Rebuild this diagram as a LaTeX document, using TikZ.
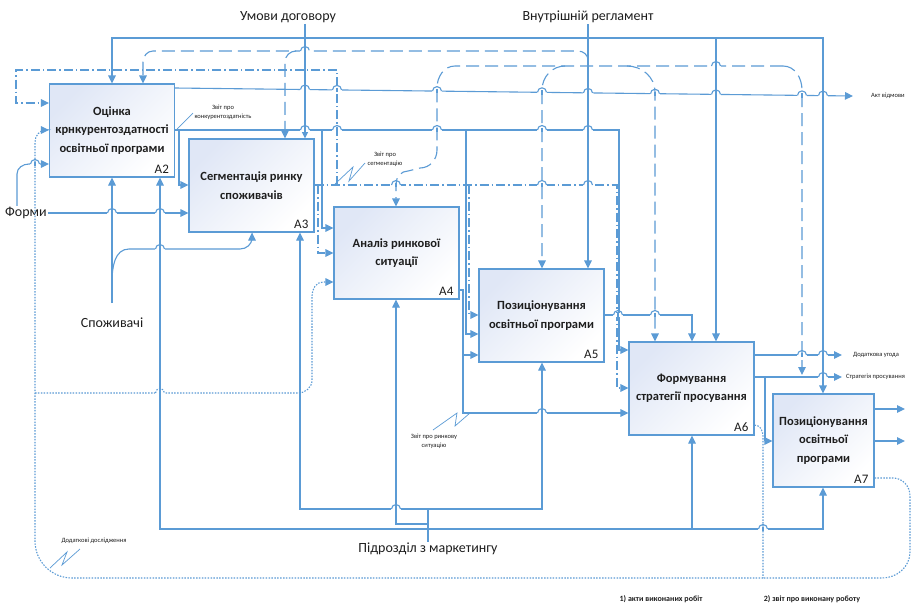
\documentclass[tikz,border=0pt]{standalone}
\usepackage{fontspec}
\setmainfont{Carlito}
\usetikzlibrary{arrows.meta}
\definecolor{lc}{RGB}{91,155,213}
\definecolor{boxtop}{RGB}{224,231,246}
\definecolor{txt}{RGB}{30,30,30}
\newcommand\hopx[3][]{%
  \fill[white] (#2-5.2,#3-1.6) rectangle (#2+5.2,#3+1.6);
  \draw[ln] (#2,#3-2.2) -- (#2,#3+2.2);
  \draw[ln,#1] (#2-4.5,#3) arc[start angle=180,end angle=360,radius=4.5];}
\begin{document}
\begin{tikzpicture}[x=1pt,y=-1pt,
  ln/.style={draw=lc,line width=1.1pt},
  arr/.style={ln,-{Triangle[length=8pt,width=7.5pt]}},
  dsh/.style={dash pattern=on 13pt off 6pt},
  ddot/.style={dash pattern=on 9pt off 3pt on 1.5pt off 3pt},
  dott/.style={line width=1.1pt,dash pattern=on 1.5pt off 1.4pt},
  zig/.style={draw=lc,line width=0.7pt},
  box/.style={draw=lc,line width=1.1pt,top color=boxtop,bottom color=white,shading angle=45,inner sep=0pt,align=center,font=\bfseries\fontsize{12.5}{18.5}\selectfont,text=txt},
  tag/.style={anchor=base east,font=\fontsize{13}{13}\selectfont,text=txt,inner sep=0pt},
  big/.style={font=\fontsize{14}{16}\selectfont,text=txt,inner sep=1pt},
  small/.style={font=\fontsize{6.5}{9}\selectfont,text=txt,align=center,inner sep=0pt},
  foot/.style={font=\bfseries\fontsize{8}{10}\selectfont,text=txt,inner sep=0pt}
]
\useasboundingbox[fill=white] (0,0) rectangle (911,606);

% boxes
\node[box,minimum width=125pt,minimum height=93pt] (A2) at (112,130.5) {Оцінка\\крнкурентоздатності\\освітньої програми};
\node[box,minimum width=125pt,minimum height=93pt] (A3) at (251.5,185.5) {Сегментація ринку\\споживачів};
\node[box,minimum width=125pt,minimum height=92pt] (A4) at (396.5,253) {Аналіз ринкової\\ситуації};
\node[box,minimum width=125pt,minimum height=93pt] (A5) at (541.5,315.5) {Позиціонування\\освітньої програми};
\node[box,minimum width=125pt,minimum height=93pt] (A6) at (691.5,388.5) {Формування\\стратегії просування};
\node[box,minimum width=101pt,minimum height=93pt] (A7) at (823.5,440.5) {Позиціонування\\освітньої\\програми};
\node[tag] (A2l) at ([xshift=-6pt,yshift=4pt]A2.south east) {A2};
\node[tag] (A3l) at ([xshift=-6pt,yshift=4pt]A3.south east) {A3};
\node[tag] (A4l) at ([xshift=-6pt,yshift=4pt]A4.south east) {A4};
\node[tag] (A5l) at ([xshift=-6pt,yshift=4pt]A5.south east) {A5};
\node[tag] (A6l) at ([xshift=-6pt,yshift=4pt]A6.south east) {A6};
\node[tag] (A7l) at ([xshift=-6pt,yshift=4pt]A7.south east) {A7};

% labels
\node[big] (umovy) at (288,17) {Умови договору};
\node[big] (regl) at (588,17) {Внутрішній регламент};
\node[big,anchor=west] (forms) at (4,213) {Форми};
\node[big] (cons) at (112,323) {Споживачі};
\node[big] (mech) at (428,549) {Підрозділ з маркетингу};
\node[small,anchor=west] (akt) at (871,96) {Акт відмови};
\node[small,anchor=west] (dod) at (853,355) {Додаткова угода};
\node[small,anchor=west] (strat) at (846,377) {Стратегія просування};
\node[small] (zk) at (223,112) {Звіт про\\конкурентоздатність};
\node[small] (zs) at (385,159) {Звіт про\\сегментацію};
\node[small] (zr) at (434,441) {Звіт про ринкову\\ситуацію};
\node[small] (dd) at (94,541) {Додаткові дослідження};
\node[foot] (f1) at (661,599) {1) акти виконаних робіт};
\node[foot] (f2) at (812,599) {2) звіт про виконану роботу};

\coordinate (ctop) at (112,303);

% controls (top)
\draw[arr] (umovy.south -| 305,0) -- (A3.north -| 305,0);
\draw[arr] (regl.south -| 588,0) -- (A5.north -| 588,0);
\draw[arr] (305,38) -| (A2.north -| 112,0);
\draw[arr] (305,38) -| (A7.north -| 823,0);
\draw[arr] (716,38) -- (A6.north -| 716,0);

% dashed controls
\draw[arr,dsh] (588,60) to[out=90,in=0] (578,51) -- (153,51) to[out=180,in=90] (143,62) -- (A2.north -| 143,0);
\draw[arr,dsh] (296,51) to[out=180,in=90] (285,62) -- (A3.north -| 285,0);
\draw[arr,dsh] (783,66) -- (455,66) to[out=180,in=90] (437,88) -- (437,150) to[out=-90,in=0] (420,168) -- (408,171) to[out=180,in=90] (396,184) -- (A4.north -| 396,0);
\draw[arr,dsh] (783,66) to[out=0,in=90] (802,90) -- (802,375);
\draw[arr,dsh] (565,66) to[out=180,in=90] (542,90) -- (A5.north -| 542,0);
\draw[arr,dsh] (627,66) to[out=0,in=90] (655,92) -- (A6.north -| 655,0);

% dash-dot feedback from A3
\draw[arr,ddot] (337,185) -- (337,70) -- (16,70) -- (16,103) -- (A2.west |- 0,103);
\draw[arr,ddot] (A3.east |- 0,185) -- (617,185) -- (617,388) -- (A6.west |- 0,388);
\draw[arr,ddot] (318,185) -- (318,253) -- (A4.west |- 0,253);
\draw[arr,ddot] (469,185) -- (469,315) -- (A5.west |- 0,315);

% A2 outputs
\draw[arr] (A2.east |- 0,88) -- (853,96);
\draw[arr] (A2.east |- 0,130) -- (619,130) -- (619,350) -- (A6.west |- 0,350);
\draw[arr] (179,130) -- (179,185) -- (A3.west |- 0,185);
\draw[arr] (322,130) -- (322,228) -- (A4.west |- 0,228);
\draw[arr] (466,130) -- (466,334) -- (A5.west |- 0,334);

% inputs
\draw[arr] (forms.east) -- (A3.west |- forms.east);
\draw[arr] (forms.north -| 17,0) -- (17,174) to[out=90,in=180] (29,164) -- (A2.west |- 0,164);
\draw[arr] (ctop) -- (A2.south -| ctop);
\draw[arr] (112,282) to[out=90,in=180] (129,249) -- (240,249) to[out=0,in=-90] (252,238) -- (A3.south -| 252,0);

% mechanism
\draw[ln] (mech.north) -- (428,509);
\draw[arr] (428,529) -| (A2.south -| 160,0);
\draw[arr] (428,529) -| (A6.south -| 692,0);
\draw[arr] (428,529) -| (A7.south -| 823,0);
\draw[arr] (428,509) -| (A3.south -| 300,0);
\draw[arr] (428,509) -| (A5.south -| 542,0);
\draw[arr] (428,524) -| (A4.south -| 396,0);

% A4 outputs
\draw[arr] (A4.east |- 0,290) -- (463,290) -- (463,413) -- (A6.west |- 0,413);
\draw[arr] (463,355) -- (A5.west |- 0,355);
% A5 output
\draw[arr] (A5.east |- 0,315) -| (A6.north -| 692,0);
% A6 outputs
\draw[arr] (A6.east |- 0,355) -- (842,355);
\draw[arr] (A6.east |- 0,377) -- (842,377);
\draw[arr] (765,377) -- (765,441) -- (A7.west |- 0,441);
% A7 outputs
\draw[arr] (A7.east |- 0,409) -- (905,409);
\draw[arr] (A7.east |- 0,441) -- (905,441);

% dotted feedback
\draw[ln,dott] (A6.east |- 0,425) to[out=0,in=90] (763,436) -- (763,578);
\draw[ln,dott] (A7.east |- 0,478) -- (893,478) to[out=0,in=90] (910,496) -- (910,552) to[out=-90,in=0] (882,578) -- (763,578);
\draw[arr,dott] (763,578) -- (72,578) to[out=180,in=-90] (35,541) -- (35,142) to[out=90,in=180] (46,130) -- (A2.west |- 0,130);
\draw[arr,dott] (35,393) -- (298,393) to[out=0,in=-90] (312,380) -- (312,296) to[out=90,in=180] (323,282) -- (A4.west |- 0,282);

% zigzags
\draw[zig] (177,129) -- (193,113);
\draw[zig] (335,184) -- (353,167) -- (349,181) -- (365,163);
\draw[zig] (433,430) -- (457,413) -- (455,426) -- (470,413);
\draw[zig] (50,568) -- (67,552) -- (62,565) -- (80,549);

% line hops
\hopx{305}{89.5}\hopx{337}{89.9}\hopx{437}{91.1}\hopx{542}{92.3}\hopx{588}{92.9}
\hopx{655}{93.7}\hopx{716}{94.4}\hopx{802}{95.4}\hopx{823}{95.6}
\hopx{305}{130}\hopx{337}{130}\hopx{437}{130}\hopx{542}{130}\hopx{588}{130}
\hopx{112}{213}\hopx{160}{213}\hopx{35}{164}\hopx{160}{249}
\hopx{618}{315}\hopx{655}{315}\hopx{802}{355}\hopx{823}{355}\hopx{823}{377}
\hopx{542}{413}\hopx{396}{509}\hopx{763}{529}
\hopx[dsh]{305}{51}\hopx{716}{66}
\hopx{396}{185}\hopx{542}{185}\hopx{588}{185}
\hopx[dott]{160}{393}
\end{tikzpicture}
\end{document}
